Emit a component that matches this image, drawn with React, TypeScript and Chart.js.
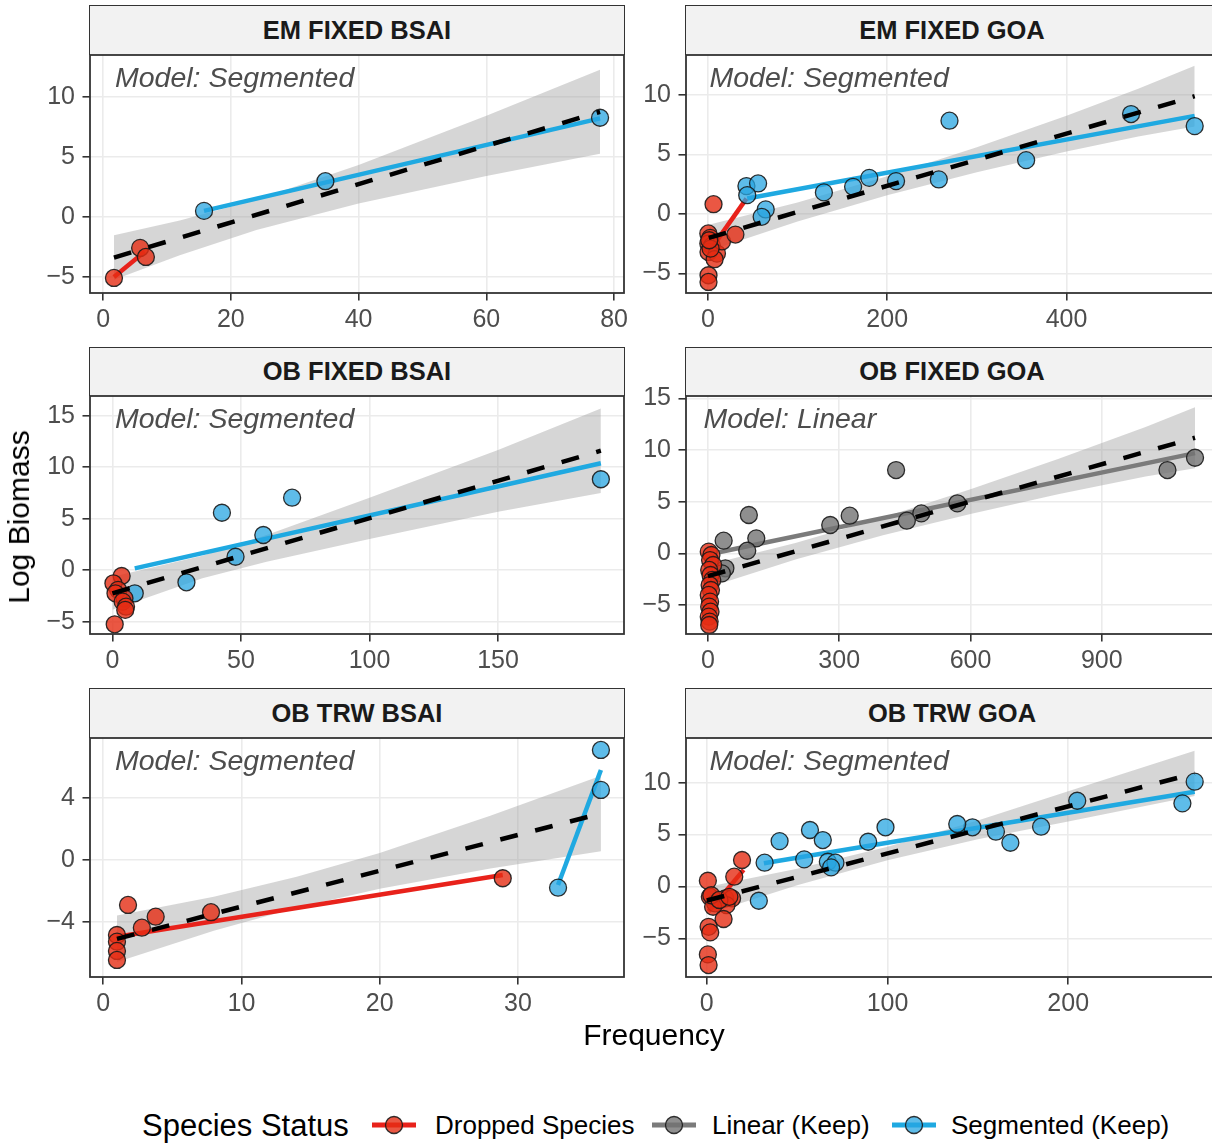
import React, { useEffect, useRef } from 'react';
import { Chart, registerables } from 'chart.js';

Chart.register(...registerables);

type Pt = [number, number];
type Band = [number, number, number]; // x, lower, upper

// ---------------- text / categories ----------------
const PANEL_TITLES = ['EM FIXED BSAI', 'EM FIXED GOA', 'OB FIXED BSAI', 'OB FIXED GOA', 'OB TRW BSAI', 'OB TRW GOA'];
const PANEL_MODELS = ['Segmented', 'Segmented', 'Segmented', 'Linear', 'Segmented', 'Segmented'];
const STATUS_LABELS = ['Dropped Species', 'Linear (Keep)', 'Segmented (Keep)'];
const LEGEND_TITLE = 'Species Status';
const X_TITLE = 'Frequency';
const Y_TITLE = 'Log Biomass';

// ---------------- axis ticks and limits ----------------
const X_TICKS: number[][] = [[0, 20, 40, 60, 80], [0, 200, 400], [0, 50, 100, 150], [0, 300, 600, 900], [0, 10, 20, 30], [0, 100, 200]];
const Y_TICKS: number[][] = [[-5, 0, 5, 10], [-5, 0, 5, 10], [-5, 0, 5, 10, 15], [-5, 0, 5, 10, 15], [-4, 0, 4], [-5, 0, 5, 10]];
const X_LIMITS: Pt[] = [[-2.05, 81.55], [-24.4, 569.0], [-8.71, 199.0], [-50.0, 1165.5], [-0.95, 37.67], [-11.5, 282.9]];
const Y_LIMITS: Pt[] = [[-6.33, 13.47], [-6.63, 13.36], [-6.19, 16.91], [-7.81, 15.23], [-7.53, 7.89], [-8.73, 14.31]];

// ---------------- EM FIXED BSAI ----------------
const EMFB_DROPPED: Pt[] = [[1.7, -5.08], [5.8, -2.58], [6.7, -3.33]];
const EMFB_SEGMENTED: Pt[] = [[15.8, 0.5], [34.8, 2.97], [77.8, 8.25]];
const EMFB_DROPPED_FIT: Pt[] = [[1.7, -5.0], [6.5, -2.9]];
const EMFB_SEGMENTED_FIT: Pt[] = [[15.8, 0.5], [77.8, 8.2]];
const EMFB_ALL_FIT: Pt[] = [[1.7, -3.38], [77.8, 8.75]];
const EMFB_BAND: Band[] = [[1.7, -5.23, -1.53], [12, -3.19, -0.29], [24, -1.09, 1.43], [40, 1.12, 4.32], [60, 3.41, 8.41], [77.8, 5.25, 12.25]];

// ---------------- EM FIXED GOA ----------------
const EMFG_DROPPED: Pt[] = [[0.5, -1.63], [2.6, -2.0], [0.5, -2.48], [4.5, -2.67], [0.7, -3.18], [10.1, -3.32], [7.5, -3.79], [15.7, -2.3], [3, -2.9], [1.5, -2.2], [30.7, -1.72], [6.3, 0.83], [0.7, -5.14], [0.7, -5.7]];
const EMFG_SEGMENTED: Pt[] = [[269.5, 7.84], [472, 8.4], [543, 7.39], [355, 4.53], [257.6, 2.91], [209.9, 2.77], [180, 3.04], [162, 2.29], [129.4, 1.82], [43, 2.35], [56, 2.57], [43.9, 1.59], [64.5, 0.39], [60, -0.23]];
const EMFG_DROPPED_FIT: Pt[] = [[1, -3.2], [43, 1.3]];
const EMFG_SEGMENTED_FIT: Pt[] = [[43.9, 1.31], [543, 8.25]];
const EMFG_ALL_FIT: Pt[] = [[1, -2.0], [543, 9.9]];
const EMFG_BAND: Band[] = [[1, -3.1, -0.9], [100, -0.63, 0.97], [200, 1.57, 3.17], [300, 3.52, 5.62], [400, 5.26, 8.26], [480, 6.52, 10.52], [543, 7.35, 12.45]];

// ---------------- OB FIXED BSAI ----------------
const OBFB_DROPPED: Pt[] = [[3.6, -0.56], [0.4, -1.27], [2.2, -1.9], [1.2, -2.24], [4.7, -2.73], [4, -3.05], [5.3, -3.54], [5, -3.85], [0.9, -5.25]];
const OBFB_SEGMENTED: Pt[] = [[190, 8.83], [69.9, 7.04], [42.6, 5.58], [58.7, 3.42], [47.9, 1.31], [28.8, -1.17], [8.7, -2.24]];
const OBFB_SEGMENTED_FIT: Pt[] = [[8.7, 0.18], [190, 10.38]];
const OBFB_ALL_FIT: Pt[] = [[0, -2.24], [190, 11.6]];
const OBFB_BAND: Band[] = [[0, -3.84, -0.64], [35, -0.79, 1.41], [60, 0.83, 3.43], [100, 3.04, 7.04], [150, 5.68, 11.68], [190, 7.5, 15.7]];

// ---------------- OB FIXED GOA ----------------
const OBFG_DROPPED: Pt[] = [[2, 0.16], [8, -0.16], [5, -0.65], [12, -1.13], [3, -1.61], [6, -2.1], [10, -2.58], [4, -3.07], [7, -3.55], [2, -4.03], [5, -4.68], [3, -5.16], [6, -5.65], [2, -6.13], [4, -6.61], [3, -6.94]];
const OBFG_LINEAR: Pt[] = [[1113, 9.25], [1050, 8.06], [430, 8.06], [570, 4.84], [487.6, 3.87], [454.6, 3.16], [324, 3.64], [279.5, 2.74], [93.6, 3.71], [110.6, 1.45], [36, 1.22], [89.9, 0.25], [40, -1.45], [32, -1.94]];
const OBFG_LINEAR_FIT: Pt[] = [[25, 0.1], [1113, 9.7]];
const OBFG_ALL_FIT: Pt[] = [[0, -2.21], [1113, 11.19]];
const OBFG_BAND: Band[] = [[0, -3.31, -1.11], [200, -0.6, 1.0], [400, 1.76, 3.46], [600, 3.81, 6.21], [800, 5.72, 9.12], [1000, 7.43, 12.23], [1113, 8.24, 14.14]];

// ---------------- OB TRW BSAI ----------------
const OBTB_DROPPED: Pt[] = [[28.9, -1.16], [7.8, -3.35], [3.8, -3.64], [1.8, -2.88], [2.8, -4.35], [1, -4.82], [1, -5.25], [1, -5.85], [1, -6.43]];
const OBTB_SEGMENTED: Pt[] = [[36, 7.12], [36, 4.54], [32.9, -1.77]];
const OBTB_DROPPED_FIT: Pt[] = [[1, -4.93], [28.9, -0.95]];
const OBTB_SEGMENTED_FIT: Pt[] = [[32.9, -1.6], [36, 5.83]];
const OBTB_ALL_FIT: Pt[] = [[1, -5.07], [36, 3.02]];
const OBTB_BAND: Band[] = [[1, -6.57, -3.57], [8, -4.55, -2.35], [14, -3.07, -1.07], [20, -1.83, 0.47], [28, -0.53, 2.87], [36, 0.59, 5.45]];

// ---------------- OB TRW GOA ----------------
const OBTG_DROPPED: Pt[] = [[19.5, 2.55], [15.2, 0.94], [0.6, 0.55], [1.7, -0.99], [4.6, -1.63], [10.2, -1.15], [14, -1.15], [10.9, -1.8], [3.5, -1.96], [2.5, -0.85], [7, -1.3], [12.5, -1.0], [9.3, -3.14], [1, -3.89], [1.9, -4.43], [0.6, -6.55], [1, -7.58]];
const OBTG_SEGMENTED: Pt[] = [[270, 10.1], [263.2, 8.01], [205, 8.26], [185, 5.76], [168, 4.21], [160, 5.28], [147, 5.7], [138.6, 6.02], [98.9, 5.7], [89.3, 4.31], [57.1, 5.44], [64.2, 4.47], [40.3, 4.37], [53.9, 2.61], [67, 2.38], [71.2, 2.29], [68.8, 1.84], [32, 2.29], [28.8, -1.38]];
const OBTG_DROPPED_FIT: Pt[] = [[1, -2.4], [20.4, 1.6]];
const OBTG_SEGMENTED_FIT: Pt[] = [[31.6, 2.23], [270, 9.13]];
const OBTG_ALL_FIT: Pt[] = [[0, -1.36], [270, 10.9]];
const OBTG_BAND: Band[] = [[0, -2.66, -0.06], [50, 0.11, 1.71], [100, 2.53, 3.83], [150, 4.55, 6.35], [200, 6.27, 9.17], [270, 8.73, 13.07]];

interface PanelData {
  dropped: Pt[]; linear: Pt[]; segmented: Pt[];
  droppedFit: Pt[]; linearFit: Pt[]; segmentedFit: Pt[];
  allFit: Pt[]; band: Band[];
}

const PANEL_DATA: PanelData[] = [
  { dropped: EMFB_DROPPED, linear: [], segmented: EMFB_SEGMENTED, droppedFit: EMFB_DROPPED_FIT, linearFit: [], segmentedFit: EMFB_SEGMENTED_FIT, allFit: EMFB_ALL_FIT, band: EMFB_BAND },
  { dropped: EMFG_DROPPED, linear: [], segmented: EMFG_SEGMENTED, droppedFit: EMFG_DROPPED_FIT, linearFit: [], segmentedFit: EMFG_SEGMENTED_FIT, allFit: EMFG_ALL_FIT, band: EMFG_BAND },
  { dropped: OBFB_DROPPED, linear: [], segmented: OBFB_SEGMENTED, droppedFit: [], linearFit: [], segmentedFit: OBFB_SEGMENTED_FIT, allFit: OBFB_ALL_FIT, band: OBFB_BAND },
  { dropped: OBFG_DROPPED, linear: OBFG_LINEAR, segmented: [], droppedFit: [], linearFit: OBFG_LINEAR_FIT, segmentedFit: [], allFit: OBFG_ALL_FIT, band: OBFG_BAND },
  { dropped: OBTB_DROPPED, linear: [], segmented: OBTB_SEGMENTED, droppedFit: OBTB_DROPPED_FIT, linearFit: [], segmentedFit: OBTB_SEGMENTED_FIT, allFit: OBTB_ALL_FIT, band: OBTB_BAND },
  { dropped: OBTG_DROPPED, linear: [], segmented: OBTG_SEGMENTED, droppedFit: OBTG_DROPPED_FIT, linearFit: [], segmentedFit: OBTG_SEGMENTED_FIT, allFit: OBTG_ALL_FIT, band: OBTG_BAND },
];

// ---------------- styles / layout ----------------
const FONT = '"Liberation Sans", Arial, Helvetica, sans-serif';
const DROP_FILL = 'rgba(229,45,20,0.8)';
const DROP_LINE = '#e8221b';
const LIN_FILL = 'rgba(115,115,115,0.8)';
const LIN_LINE = '#7b7b7b';
const SEG_FILL = 'rgba(40,165,225,0.75)';
const SEG_LINE = '#1fa9e1';
const PT_BORDER = 'rgba(25,25,25,0.9)';
const BAND_FILL = 'rgba(153,153,153,0.4)';

const COLS: Pt[] = [[90, 624], [686, 1218]];
const ROWS: [number, number, number][] = [[6, 55, 293], [348, 396, 634], [689, 738, 977]];
const ANNOT_DX = [25, 23.5, 25, 17.5, 25, 23.5];
const PAD_L = 70, PAD_T = 30, PAD_R = 30, PAD_B = 50;

const fmt = (v: number) => (v < 0 ? '\u2212' + Math.abs(v) : String(v));

const borderPlugin = {
  id: 'panelBorder',
  afterDraw(chart: any) {
    const { ctx, chartArea } = chart;
    ctx.save();
    ctx.strokeStyle = '#333333';
    ctx.lineWidth = 1.8;
    ctx.strokeRect(chartArea.left, chartArea.top, chartArea.right - chartArea.left, chartArea.bottom - chartArea.top);
    ctx.restore();
  },
};

function PanelChart({ idx, L, T, R, B }: { idx: number; L: number; T: number; R: number; B: number }) {
  const ref = useRef<HTMLCanvasElement>(null);
  useEffect(() => {
    const p = PANEL_DATA[idx];
    const xy = (a: Pt[]) => a.map(([x, y]) => ({ x, y }));
    const datasets: any[] = [];
    // order: lower value drawn on top
    datasets.push({ data: xy(p.allFit), borderColor: '#000000', borderWidth: 4.5, borderDash: [18, 18], borderCapStyle: 'butt', pointRadius: 0, order: 0, fill: false });
    datasets.push({ data: p.band.map(([x, lo]) => ({ x, y: lo })), borderColor: 'rgba(0,0,0,0)', borderWidth: 0, pointRadius: 0, order: 9, fill: false });
    datasets.push({ data: p.band.map(([x, , hi]) => ({ x, y: hi })), borderColor: 'rgba(0,0,0,0)', borderWidth: 0, pointRadius: 0, order: 9, fill: '-1', backgroundColor: BAND_FILL });
    const pts = (data: Pt[], fill: string, order: number) => ({
      data: xy(data), showLine: false, pointRadius: 8.5, pointBackgroundColor: fill, pointBorderColor: PT_BORDER, pointBorderWidth: 1.3, order, fill: false,
    });
    if (p.dropped.length) datasets.push(pts(p.dropped, DROP_FILL, 2));
    if (p.linear.length) datasets.push(pts(p.linear, LIN_FILL, 3));
    if (p.segmented.length) datasets.push(pts(p.segmented, SEG_FILL, 3));
    const fit = (data: Pt[], color: string) => ({ data: xy(data), borderColor: color, borderWidth: 4.5, pointRadius: 0, order: 5, fill: false });
    if (p.droppedFit.length) datasets.push(fit(p.droppedFit, DROP_LINE));
    if (p.linearFit.length) datasets.push(fit(p.linearFit, LIN_LINE));
    if (p.segmentedFit.length) datasets.push(fit(p.segmentedFit, SEG_LINE));

    const grid = { color: '#ebebeb', lineWidth: 1.6, drawTicks: true, tickLength: 7.5, tickColor: '#333333', tickWidth: 1.6 };
    const tickFont = { family: FONT, size: 25 };
    const chart = new Chart(ref.current as HTMLCanvasElement, {
      type: 'line',
      data: { datasets },
      options: {
        responsive: false,
        animation: false,
        events: [],
        layout: { padding: { left: 0, top: PAD_T, right: PAD_R, bottom: 0 } },
        plugins: { legend: { display: false }, tooltip: { enabled: false } },
        scales: {
          x: {
            type: 'linear', min: X_LIMITS[idx][0], max: X_LIMITS[idx][1],
            afterBuildTicks: (s: any) => { s.ticks = X_TICKS[idx].map((v) => ({ value: v })); },
            afterFit: (s: any) => { s.height = PAD_B; },
            grid, border: { display: false },
            ticks: { font: tickFont, color: '#4d4d4d', padding: 4.5, maxRotation: 0, autoSkip: false, callback: (v: any) => fmt(Number(v)) },
          },
          y: {
            type: 'linear', min: Y_LIMITS[idx][0], max: Y_LIMITS[idx][1],
            afterBuildTicks: (s: any) => { s.ticks = Y_TICKS[idx].map((v) => ({ value: v })); },
            afterFit: (s: any) => { s.width = PAD_L; },
            grid, border: { display: false },
            ticks: { font: tickFont, color: '#4d4d4d', padding: 7.5, autoSkip: false, callback: (v: any) => fmt(Number(v)) },
          },
        },
      } as any,
      plugins: [borderPlugin],
    });
    return () => chart.destroy();
  }, [idx]);
  const w = R - L + PAD_L + PAD_R;
  const h = B - T + PAD_T + PAD_B;
  return (
    <canvas ref={ref} width={w} height={h}
      style={{ position: 'absolute', left: L - PAD_L, top: T - PAD_T, width: w, height: h }} />
  );
}

function LegendKey({ left, line, fill }: { left: number; line: string; fill: string }) {
  return (
    <svg width={44} height={26} style={{ position: 'absolute', left, top: 1112 }}>
      <line x1={0} y1={13} x2={44} y2={13} stroke={line} strokeWidth={5} />
      <circle cx={22} cy={13} r={8.5} fill={fill} stroke={PT_BORDER} strokeWidth={1.3} />
    </svg>
  );
}

export default function App() {
  const txt = (extra: React.CSSProperties): React.CSSProperties => ({ position: 'absolute', whiteSpace: 'nowrap', lineHeight: 1, ...extra });
  return (
    <div style={{ position: 'absolute', left: 0, top: 0, width: 1212, height: 1144, overflow: 'hidden', background: '#ffffff', fontFamily: FONT }}>
      {PANEL_TITLES.map((title, i) => {
        const [L, R] = COLS[i % 2];
        const [S, T, B] = ROWS[Math.floor(i / 2)];
        return (
          <React.Fragment key={i}>
            <div style={{
              position: 'absolute', left: L - 0.9, top: S - 0.9, width: R - L + 1.8, height: T - S + 0.9,
              boxSizing: 'border-box', background: '#f2f2f2', border: '1.8px solid #333333', borderBottom: 'none',
              display: 'flex', alignItems: 'center', justifyContent: 'center',
              fontWeight: 700, fontSize: 25.5, color: '#1a1a1a', lineHeight: 1,
            }}>{title}</div>
            <PanelChart idx={i} L={L} T={T} R={R} B={B} />
            <div style={txt({ left: L + ANNOT_DX[i], top: T + 8.4, fontStyle: 'italic', fontSize: 28.5, color: '#4d4d4d' })}>
              {'Model: ' + PANEL_MODELS[i]}
            </div>
          </React.Fragment>
        );
      })}
      <div style={txt({ left: 654, top: 1020, fontSize: 30, color: '#000', transform: 'translateX(-50%)' })}>{X_TITLE}</div>
      <div style={txt({ left: 19, top: 516.5, fontSize: 30, color: '#000', transform: 'translate(-50%, -50%) rotate(-90deg)' })}>{Y_TITLE}</div>

      <div style={txt({ left: 142, top: 1125, fontSize: 31, color: '#000', transform: 'translateY(-50%)' })}>{LEGEND_TITLE}</div>
      <LegendKey left={372} line={DROP_LINE} fill={DROP_FILL} />
      <div style={txt({ left: 435, top: 1125, fontSize: 26, color: '#000', transform: 'translateY(-50%)' })}>{STATUS_LABELS[0]}</div>
      <LegendKey left={652} line={LIN_LINE} fill={LIN_FILL} />
      <div style={txt({ left: 712, top: 1125, fontSize: 26, color: '#000', transform: 'translateY(-50%)' })}>{STATUS_LABELS[1]}</div>
      <LegendKey left={892} line={SEG_LINE} fill={SEG_FILL} />
      <div style={txt({ left: 951, top: 1125, fontSize: 26, color: '#000', transform: 'translateY(-50%)' })}>{STATUS_LABELS[2]}</div>
    </div>
  );
}
